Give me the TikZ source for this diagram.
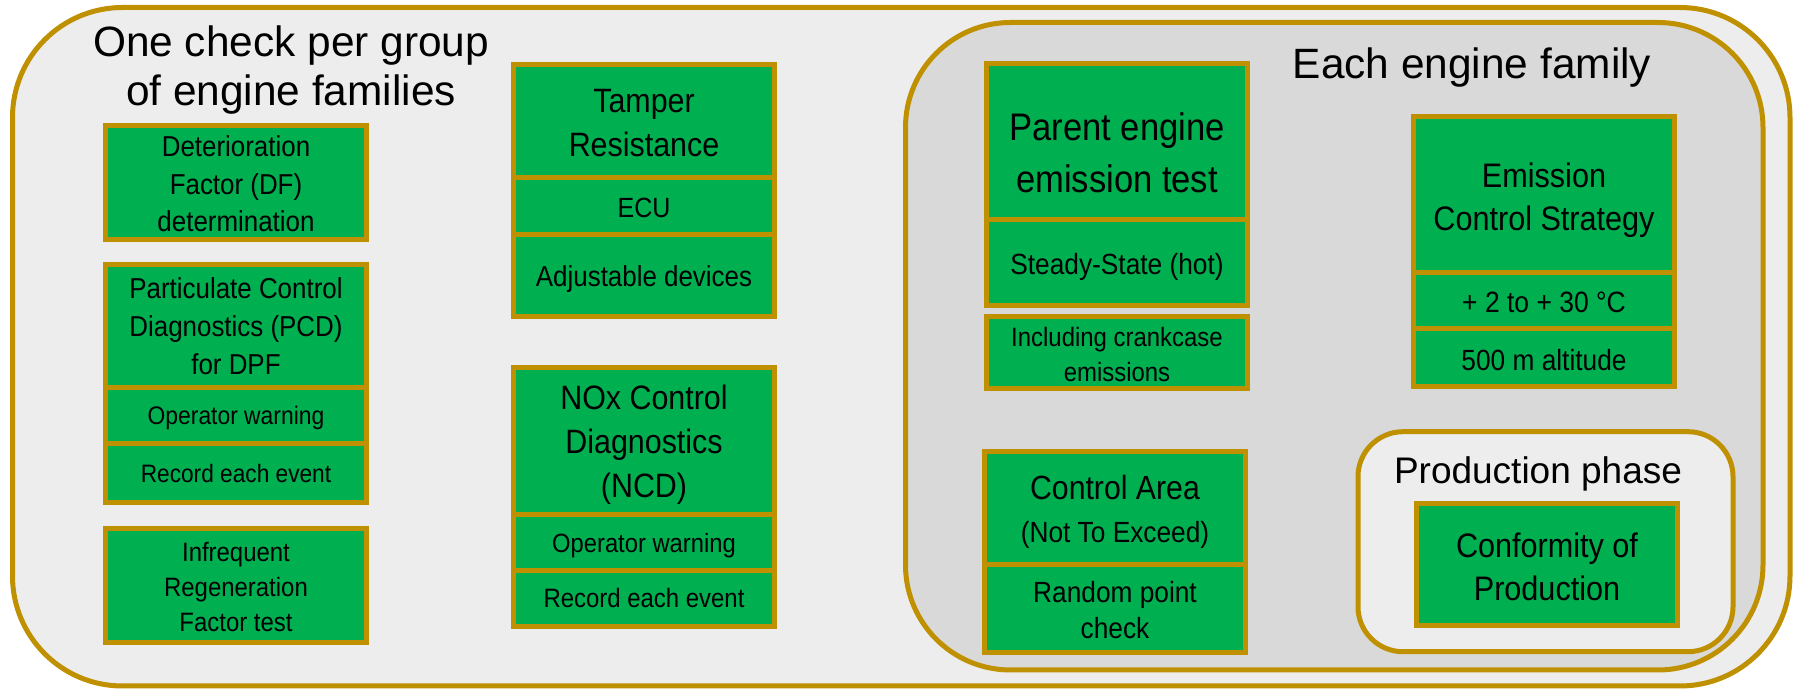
\documentclass[tikz,border=0pt]{standalone}
\usepackage{fontspec}
\setmainfont{Liberation Sans}
\newfontfamily\narrowfont[FakeStretch=0.9]{Liberation Sans}
\definecolor{cellgreen}{HTML}{00B050}
\definecolor{rimgold}{HTML}{BF9000}
\definecolor{outergray}{HTML}{EDEDED}
\definecolor{innergray}{HTML}{D9D9D9}
\newcommand*{\sz}[2]{\fontsize{#1}{#2}\selectfont}
\tikzset{
  cell/.style={fill=cellgreen, draw=rimgold, line width=2.5pt},
  panel/.style={draw=rimgold, line width=2.5pt},
  lbl/.style={inner sep=0pt, align=center},
}
\begin{document}
\begin{tikzpicture}[x=0.5pt,y=-0.5pt]
            \useasboundingbox (0,0) rectangle (1801,689);
            % panels
            \draw[panel, fill=outergray, rounded corners=55pt] (12.5,7.5) rectangle (1790,686);
            \draw[panel, fill=innergray, rounded corners=52.5pt] (905.5,22.5) rectangle (1763,670);
            \draw[panel, fill=outergray, rounded corners=22.5pt] (1358,431.7) rectangle (1733,651.7);
            % left column
            \draw[cell] (105.5,125.5) rectangle (366.5,239.5);
            \foreach \ya/\yb in {264.5/387.5,387.5/444,444/502.5}{
              \draw[cell] (105.5,\ya) rectangle (366.5,\yb);
            }
            \draw[cell] (105,529) rectangle (366.5,642.5);
            % middle column
            \foreach \ya/\yb in {65/177.7,177.7/234.8,234.8/316.7,368/514.8,514.8/570.5,570.5/626.5}{
              \draw[cell] (513.5,\ya) rectangle (774.5,\yb);
            }
            % each engine family
            \foreach \ya/\yb in {63.3/220,220/305.7,316.7/389}{
              \draw[cell] (986.5,\ya) rectangle (1247.5,\yb);
            }
            \foreach \ya/\yb in {451.5/564.5,564.5/652.5}{
              \draw[cell] (984.5,\ya) rectangle (1245.5,\yb);
            }
            \foreach \ya/\yb in {117/272.7,272.7/329,329/386.7}{
              \draw[cell] (1413.5,\ya) rectangle (1674.5,\yb);
            }
            \draw[cell] (1416.5,504) rectangle (1677.5,626);
            % titles
            \node[lbl, font=\sz{21.2}{24.5}] (grouptitle) at (291,69.8) {One check per group\\of engine families};
            \node[lbl, anchor=base, font=\sz{21.2}{24.5}] (familytitle) at (1472,79) {Each engine family};
            \node[lbl, anchor=base, font=\sz{18.5}{22}] (phasetitle) at (1538,484) {Production phase};
            % left texts
            \node[lbl, font=\narrowfont\sz{14.4}{18.75}] (df) at (236,184.2) {Deterioration\\Factor (DF)\\determination};
            \node[lbl, font=\narrowfont\sz{14.4}{19}] (pcd) at (236,326.7) {Particulate Control\\Diagnostics (PCD)\\for DPF};
            \node[lbl, anchor=base, font=\narrowfont\sz{12.7}{15}] (pcdwarn) at (236,425) {Operator warning};
            \node[lbl, anchor=base, font=\narrowfont\sz{12.6}{15}] (pcdrec) at (236,483) {Record each event};
            \node[lbl, font=\narrowfont\sz{13.3}{17.5}] (irf) at (236,587.5) {Infrequent\\Regeneration\\Factor test};
            % middle texts
            \node[lbl, font=\narrowfont\sz{16.9}{22}] (tamper) at (644,122.9) {Tamper\\Resistance};
            \node[lbl, anchor=base, font=\narrowfont\sz{13.9}{16}] (ecu) at (644,218) {ECU};
            \node[lbl, anchor=base, font=\narrowfont\sz{14.4}{16}] (adjust) at (644,287) {Adjustable devices};
            \node[lbl, font=\narrowfont\sz{16.9}{22}] (ncd) at (644,444.5) {NOx Control\\Diagnostics\\(NCD)};
            \node[lbl, anchor=base, font=\narrowfont\sz{13.2}{15}] (ncdwarn) at (644,553) {Operator warning};
            \node[lbl, anchor=base, font=\narrowfont\sz{13.3}{15}] (ncdrec) at (644,608) {Record each event};
            % right texts
            \node[lbl, font=\narrowfont\sz{19.2}{26}] (parent) at (1117,152.3) {Parent engine\\emission test};
            \node[lbl, anchor=base, font=\narrowfont\sz{14.6}{17}] (steady) at (1117,275) {Steady-State (hot)};
            \node[lbl, font=\narrowfont\sz{13.3}{17.5}] (crank) at (1117,354.9) {Including crankcase\\emissions};
            \node[lbl, anchor=base, font=\narrowfont\sz{16.8}{20}] (area) at (1115,500) {Control Area};
            \node[lbl, anchor=base, font=\narrowfont\sz{14.6}{17}] (nte) at (1115,543) {(Not To Exceed)};
            \node[lbl, font=\narrowfont\sz{14.6}{18}] (random) at (1115,609.6) {Random point\\check};
            \node[lbl, font=\narrowfont\sz{17}{21.5}] (strategy) at (1544,199.9) {Emission\\Control Strategy};
            \node[lbl, anchor=base, font=\narrowfont\sz{14.7}{17}] (temp) at (1544,313) {+ 2 to + 30 °C};
            \node[lbl, anchor=base, font=\narrowfont\sz{14.6}{17}] (alt) at (1544,371) {500 m altitude};
            \node[lbl, font=\narrowfont\sz{17}{21.5}] (cop) at (1547,566.4) {Conformity of\\Production};
          \end{tikzpicture}
\end{document}
